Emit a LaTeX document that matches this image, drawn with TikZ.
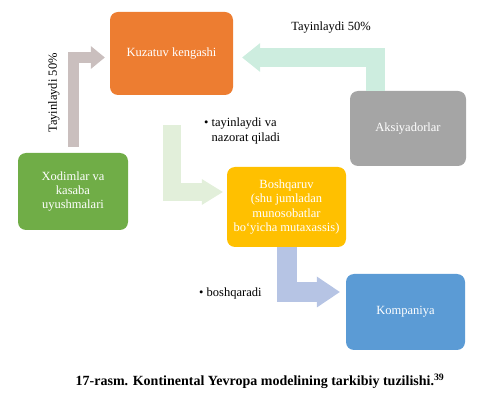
\documentclass[tikz,border=0pt]{standalone}
\usepackage{fontspec}
\setmainfont{Liberation Serif}
\usetikzlibrary{arrows.meta}

\definecolor{kuzc}{HTML}{ED7D31}
\definecolor{aksc}{HTML}{A5A5A5}
\definecolor{xodc}{HTML}{70AD47}
\definecolor{boshc}{HTML}{FFC000}
\definecolor{kompc}{HTML}{5B9BD5}
\definecolor{garr}{HTML}{CABFBE}
\definecolor{marr}{HTML}{CDEDDF}
\definecolor{larr}{HTML}{E2EFDA}
\definecolor{barr}{HTML}{B6C4E4}

\begin{document}
\begin{tikzpicture}[x=1pt, y=-1pt, every node/.style={font=\fontsize{12.5}{14.2}\selectfont}]
    \tikzstyle{boxs}=[rounded corners=8pt, text=white, align=center, inner sep=0pt]
    \tikzstyle{fatarr}=[line join=miter, shorten <=#1]
    \useasboundingbox (0,0) rectangle (496,406);

    % boxes
    \foreach \n/\x/\y/\w/\h/\c/\t in {
        kuz/171.5/53.5/123/83/kuzc/{Kuzatuv kengashi},
        aks/408/128.5/116/75/aksc/{Aksiyadorlar},
        xod/73/191.5/110/77/xodc/{Xodimlar va\\kasaba\\uyushmalari},
        bosh/286.5/207/119/80/boshc/{Boshqaruv\\(shu jumladan\\munosobatlar\\bo‘yicha mutaxassis)},
        komp/405.5/312/119/76/kompc/{Kompaniya}} {
        \node[boxs, fill=\c, minimum width=\w pt, minimum height=\h pt] (\n) at (\x, \y) {\t};
    }

    % arrows
    \draw[fatarr=6pt, line width=11pt, draw=garr, shorten >=5pt,
        -{Triangle[width=23pt, length=14pt, line width=0pt, fill=garr]}]
        (xod.north) |- ([yshift=-4pt]kuz.west);
    \draw[fatarr=0pt, line width=19pt, draw=marr, shorten >=9pt,
        -{Triangle[width=29pt, length=18pt, line width=0pt, fill=marr]}]
        ([xshift=-33pt]aks.north) |- ([yshift=-4pt]kuz.east);
    \draw[fatarr=30pt, line width=18pt, draw=larr, shorten >=4pt,
        -{Triangle[width=26pt, length=21pt, line width=0pt, fill=larr]}]
        (kuz.south) |- ([yshift=15pt]bosh.west);
    \draw[fatarr=0pt, line width=20pt, draw=barr, shorten >=6pt,
        -{Triangle[width=31pt, length=23pt, line width=0pt, fill=barr]}]
        (bosh.south) |- ([yshift=20pt]komp.west);

    % labels
    \node[rotate=90] (tay1) at (54, 93) {Tayinlaydi 50\%};
    \node (tay2) at (331, 28) {Tayinlaydi 50\%};
    \node[anchor=north west, align=left, inner sep=0pt] (naz) at (204, 118) {\textbullet\ tayinlaydi va\\\phantom{\textbullet\ }nazorat qiladi};
    \node[anchor=west, inner sep=0pt] (bosq) at (199, 293) {\textbullet\ boshqaradi};

    \node[font=\fontsize{14}{16}\selectfont\bfseries] (cap) at (260, 381) {17-rasm. Kontinental Yevropa modelining tarkibiy tuzilishi.\textsuperscript{39}};

\end{tikzpicture}
\end{document}
